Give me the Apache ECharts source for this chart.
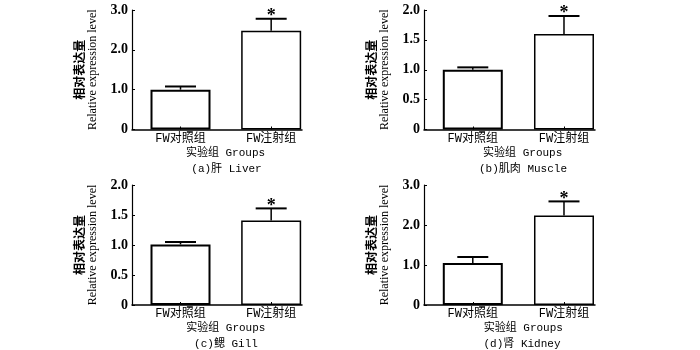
<!DOCTYPE html>
<html>
<head>
<meta charset="utf-8">
<script src="https://cdn.jsdelivr.net/npm/echarts@6/dist/echarts.min.js"></script>
<style>html,body{margin:0;padding:0;background:#fff;}#c{width:700px;height:350px;}</style>
</head>
<body>
<div id="c"></div>
<script>
// ---- data ----
const categories = ['FW对照组', 'FW注射组'];
const panelLabels = ['(a)肝 Liver', '(b)肌肉 Muscle', '(c)鳃 Gill', '(d)肾 Kidney'];
const xTitle = '实验组 Groups';
const yTitleCn = '相对表达量';
const yTitleEn = 'Relative expression level';
const liverMean = [1.00, 2.48];
const liverErr = [0.08, 0.30];
const muscleMean = [1.00, 1.60];
const muscleErr = [0.04, 0.30];
const gillMean = [1.01, 1.41];
const gillErr = [0.04, 0.20];
const kidneyMean = [1.05, 2.24];
const kidneyErr = [0.15, 0.35];
const significant = [false, true];
const yMaxes = [3, 2, 2, 3];
const yIntervals = [1, 0.5, 0.5, 1];

// ---- layout ----
const means = [liverMean, muscleMean, gillMean, kidneyMean];
const errs = [liverErr, muscleErr, gillErr, kidneyErr];
const grids = [
  {left: 132, top: 10, width: 170, height: 119.5},
  {left: 424, top: 10, width: 171, height: 119.5},
  {left: 132, top: 185, width: 170, height: 120},
  {left: 424, top: 185, width: 171, height: 120}
];
const titlePos = [
  [[225.5, 153.3], [226.5, 169]],
  [[522.7, 153.3], [523, 169]],
  [[225.8, 328.3], [226, 344]],
  [[523.3, 328.3], [522, 344]]
];
const latinCjk = "'Liberation Mono', 'Noto Sans CJK SC'";

const xAxes = [], yAxes = [], series = [], graphics = [];
grids.forEach((g, i) => {
  xAxes.push({
    type: 'value', gridIndex: i, min: -0.535, max: 1.34, z: 5,
    axisLine: {onZero: false, lineStyle: {color: '#000', width: 1.5}},
    axisTick: {show: true, inside: true, length: 3, customValues: [0, 1], lineStyle: {color: '#000'}},
    axisLabel: {customValues: [0, 1], formatter: v => categories[Math.round(v)],
      fontSize: 12, fontFamily: latinCjk, color: '#000', margin: 3},
    splitLine: {show: false}
  });
  yAxes.push({
    type: 'value', gridIndex: i, min: 0, max: yMaxes[i], interval: yIntervals[i], z: 5,
    axisLine: {show: true, onZero: false, lineStyle: {color: '#000', width: 1.2}},
    axisTick: {show: true, inside: true, length: 3, lineStyle: {color: '#000'}},
    axisLabel: {formatter: v => v === 0 ? '0' : v.toFixed(1), fontSize: 14, fontWeight: 'bold',
      fontFamily: "'Liberation Serif'", color: '#000', margin: 4},
    splitLine: {show: false},
    name: '{cn|' + yTitleCn + '}\n{en|' + yTitleEn + '}',
    nameLocation: 'middle', nameRotate: 90, nameGap: 33,
    nameTextStyle: {
      color: '#000',
      rich: {
        cn: {fontSize: 12, fontWeight: 'bold', fontFamily: "'Noto Sans CJK SC'", lineHeight: 13, color: '#000'},
        en: {fontSize: 12, fontFamily: "'Liberation Serif'", lineHeight: 13, color: '#000'}
      }
    }
  });
  series.push({
    type: 'bar', xAxisIndex: i, yAxisIndex: i, barWidth: 60, z: 2,
    data: means[i].map((m, k) => ({
      value: [k, m],
      itemStyle: {color: '#fff', borderColor: '#000', borderWidth: k === 0 ? 2 : 1.5}
    }))
  });
  series.push({
    type: 'custom', xAxisIndex: i, yAxisIndex: i, z: 3,
    data: means[i].map((m, k) => [k, m, errs[i][k], significant[k] ? 1 : 0]),
    renderItem: (params, api) => {
      const x = api.value(0), m = api.value(1), e = api.value(2), s = api.value(3);
      const p0 = api.coord([x, m]);
      const p1 = api.coord([x, m + e]);
      const half = 15.5;
      const children = [
        {type: 'line', shape: {x1: p0[0], y1: p0[1], x2: p1[0], y2: p1[1]}, style: {stroke: '#000', lineWidth: 1.5}},
        {type: 'line', shape: {x1: p1[0] - half, y1: p1[1], x2: p1[0] + half, y2: p1[1]}, style: {stroke: '#000', lineWidth: 2}}
      ];
      if (s) {
        children.push({type: 'text', style: {text: '*', x: p1[0], y: p1[1] - 2.5, align: 'center', verticalAlign: 'middle',
          font: "bold 18px 'Liberation Serif'", fill: '#000'}});
      }
      return {type: 'group', children: children};
    }
  });
  graphics.push({type: 'text', x: titlePos[i][0][0], y: titlePos[i][0][1],
    style: {text: xTitle, align: 'center', verticalAlign: 'middle', font: "11px " + latinCjk, fill: '#000'}});
  graphics.push({type: 'text', x: titlePos[i][1][0], y: titlePos[i][1][1],
    style: {text: panelLabels[i], align: 'center', verticalAlign: 'middle', font: "11px " + latinCjk, fill: '#000'}});
});

const chart = echarts.init(document.getElementById('c'), null, {renderer: 'canvas'});
chart.setOption({
  backgroundColor: '#fff',
  animation: false,
  grid: grids,
  xAxis: xAxes,
  yAxis: yAxes,
  series: series,
  graphic: graphics
});
</script>
</body>
</html>
